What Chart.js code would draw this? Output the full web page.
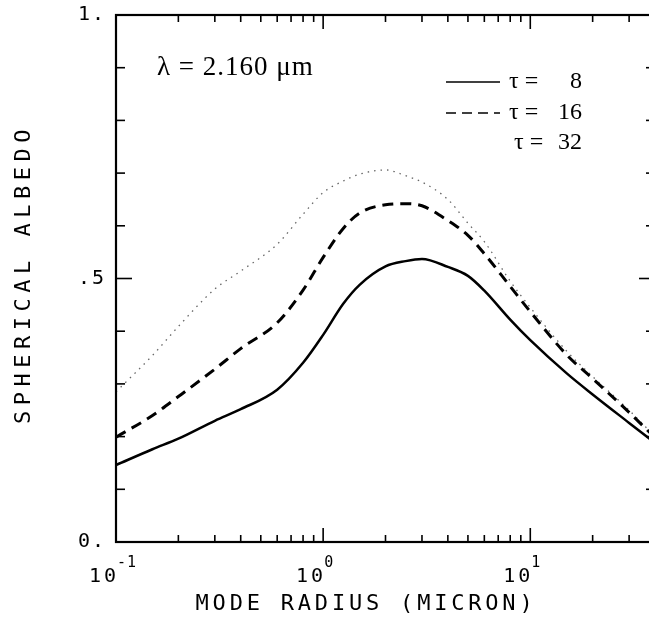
<!DOCTYPE html>
<html>
<head>
<meta charset="utf-8">
<script src="https://cdn.jsdelivr.net/npm/chart.js@4.4.1/dist/chart.umd.min.js"></script>
<style>
html,body{margin:0;padding:0;background:#fff;overflow:hidden;}
#wrap{width:660px;height:620px;}
</style>
</head>
<body>
<div id="wrap"><canvas id="albedo" width="660" height="620"></canvas></div>
<script>
//=====================================================
// DATOS
//=====================================================

const radius=[0.1,0.15,0.2,0.3,0.4,0.6,0.8,1,1.25,1.5,2,2.5,3,4,5,6,8,10,15,20,30,40];

const tau8 =[0.146,0.176,0.196,0.230,0.252,0.289,0.340,0.393,0.452,0.488,0.523,0.533,0.537,0.522,0.505,0.477,0.422,0.383,0.320,0.280,0.226,0.188];
const tau16=[0.199,0.240,0.276,0.328,0.367,0.416,0.478,0.540,0.595,0.624,0.640,0.642,0.638,0.610,0.582,0.547,0.485,0.437,0.355,0.310,0.246,0.198];
const tau32=[0.285,0.354,0.409,0.480,0.514,0.565,0.622,0.663,0.685,0.698,0.706,0.695,0.683,0.650,0.605,0.570,0.495,0.445,0.362,0.314,0.250,0.200];

const yTicks=[0,0.1,0.2,0.3,0.4,0.5,0.6,0.7,0.8,0.9,1];
const yLabelValues=[0,0.5,1];
const yLabelText=["0.",".5","1."];

const xDecades=[0.1,1,10];
const xExponents=["-1","0","1"];

const xTitle="MODE RADIUS (MICRON)";
const yTitle="SPHERICAL ALBEDO";
const lambdaText="λ = 2.160 μm";
const legendNums=["8","16","32"];

//=====================================================
// EJES, MARCAS Y TEXTOS
//=====================================================

function seg(c,x1,y1,x2,y2){
c.beginPath();c.moveTo(x1,y1);c.lineTo(x2,y2);c.stroke();
}

const marco={
id:"marco",
afterDraw(chart){
const c=chart.ctx,a=chart.chartArea,sx=chart.scales.x,sy=chart.scales.y;
c.save();
c.strokeStyle="#000";
c.fillStyle="#000";
c.lineWidth=2.2;
c.strokeRect(a.left,a.top,a.right-a.left,a.bottom-a.top);

// marcas y
c.lineWidth=1.6;
yTicks.forEach(v=>{
const py=sy.getPixelForValue(v);
const len=v===0.5?16:9;
seg(c,a.left,py,a.left+len,py);
seg(c,a.right,py,a.right-len,py);
});

// marcas x (log)
xDecades.forEach(d=>{
for(let m=1;m<10;m++){
const v=d*m;
if(v>sx.max)break;
const px=sx.getPixelForValue(v);
const len=m===1?14:7;
seg(c,px,a.bottom,px,a.bottom-len);
seg(c,px,a.top,px,a.top+len);
}
});

// etiquetas y
c.font="20px 'DejaVu Sans Mono'";
c.letterSpacing="2px";
c.textAlign="right";
c.textBaseline="middle";
yLabelValues.forEach((v,i)=>{
c.fillText(yLabelText[i],106,sy.getPixelForValue(v));
});

// etiquetas x
c.textBaseline="alphabetic";
xDecades.forEach((d,i)=>{
const px=sx.getPixelForValue(d);
c.font="20px 'DejaVu Sans Mono'";
c.letterSpacing="3px";
c.textAlign="right";
c.fillText("10",px+3,582);
c.font="15px 'DejaVu Sans Mono'";
c.letterSpacing="1px";
c.textAlign="left";
c.fillText(xExponents[i],px+1,567);
});

// títulos
c.font="22px 'DejaVu Sans Mono'";
c.letterSpacing="3.8px";
c.textAlign="center";
c.textBaseline="middle";
c.fillText(xTitle,366,604);
c.save();
c.translate(24,274);
c.rotate(-Math.PI/2);
c.letterSpacing="5.5px";
c.fillText(yTitle,0,0);
c.restore();

// lambda
c.letterSpacing="1px";
c.font="27px 'Liberation Serif'";
c.textAlign="left";
c.fillText(lambdaText,157,68);

// leyenda
c.letterSpacing="0px";
c.lineWidth=1.6;
seg(c,446,82,500,82);
c.setLineDash([10,6]);
seg(c,446,113,500,113);
c.setLineDash([]);
c.font="24px 'Liberation Serif'";
const ly=[82,113,143];
ly.forEach((y,i)=>{
c.textAlign="left";
c.fillText("τ =",i===2?514:509,y);
c.textAlign="right";
c.fillText(legendNums[i],582,y);
});
c.restore();
}
};

//=====================================================
// GRÁFICO
//=====================================================

function pts(vals){return radius.map((r,i)=>({x:r,y:vals[i]}));}

new Chart(document.getElementById("albedo"),{
type:"line",
data:{
datasets:[
{label:"τ = 8",data:pts(tau8),borderColor:"#000",borderWidth:2.5},
{label:"τ = 16",data:pts(tau16),borderColor:"#000",borderWidth:3,borderDash:[11,7]},
{label:"τ = 32",data:pts(tau32),borderColor:"#666",borderWidth:1.3,borderDash:[1.5,5]}
]
},
options:{
responsive:false,
animation:false,
layout:{padding:{left:116,right:5,top:15,bottom:78}},
elements:{point:{radius:0},line:{cubicInterpolationMode:"monotone"}},
plugins:{legend:{display:false},tooltip:{enabled:false}},
scales:{
x:{type:"logarithmic",min:0.1,max:40,display:false},
y:{type:"linear",min:0,max:1,display:false}
}
},
plugins:[marco]
});
</script>
</body>
</html>
